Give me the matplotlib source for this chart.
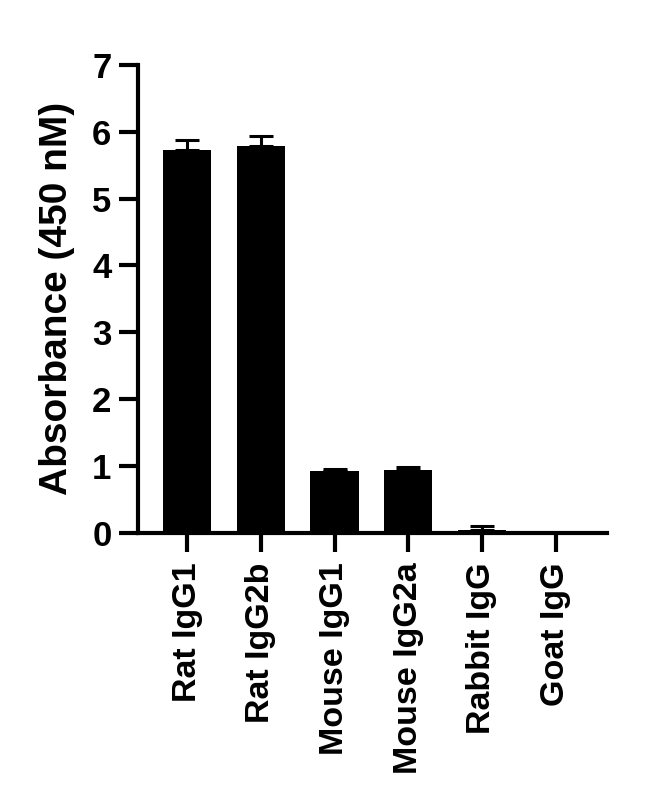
import numpy as np
import matplotlib
matplotlib.use("Agg")
import matplotlib.pyplot as plt

plt.rcParams['font.family'] = ['Liberation Sans', 'DejaVu Sans']
plt.rcParams['font.weight'] = 'bold'

# data
groups = ["Rat IgG1", "Rat IgG2b", "Mouse IgG1", "Mouse IgG2a", "Rabbit IgG", "Goat IgG"]
absorbance = [5.72, 5.78, 0.92, 0.94, 0.05, 0.0]
err_up = [0.16, 0.16, 0.04, 0.04, 0.05, 0.0]

fig = plt.figure(figsize=(6.5, 8.11), dpi=100)
ax = fig.add_axes([0.212, 0.3428, 0.722, 0.5772])

x = np.arange(len(groups))
ax.bar(x, absorbance, width=0.66, color="black", zorder=2)
ax.errorbar(x, absorbance, yerr=[np.zeros(len(x)), err_up], fmt="none",
            ecolor="black", elinewidth=2.2, capsize=8.5, capthick=2.2, zorder=1)

ax.set_xlim(-0.67, 5.7)
ax.set_ylim(0, 7)
ax.set_yticks(range(0, 8))
ax.set_xticks(x)
ax.set_xticklabels(groups, rotation=90, fontsize=24.5, fontweight="bold")
ax.tick_params(axis="y", labelsize=25, width=3, length=14, pad=5)
ax.tick_params(axis="x", width=3, length=14, pad=7)
for lab in ax.get_yticklabels():
    lab.set_fontweight("bold")

ax.set_ylabel("Absorbance (450 nM)", fontsize=28, fontweight="bold", labelpad=12)

for side in ["top", "right"]:
    ax.spines[side].set_visible(False)
for side in ["left", "bottom"]:
    ax.spines[side].set_linewidth(3)

fig.savefig("out.png", dpi=100)
